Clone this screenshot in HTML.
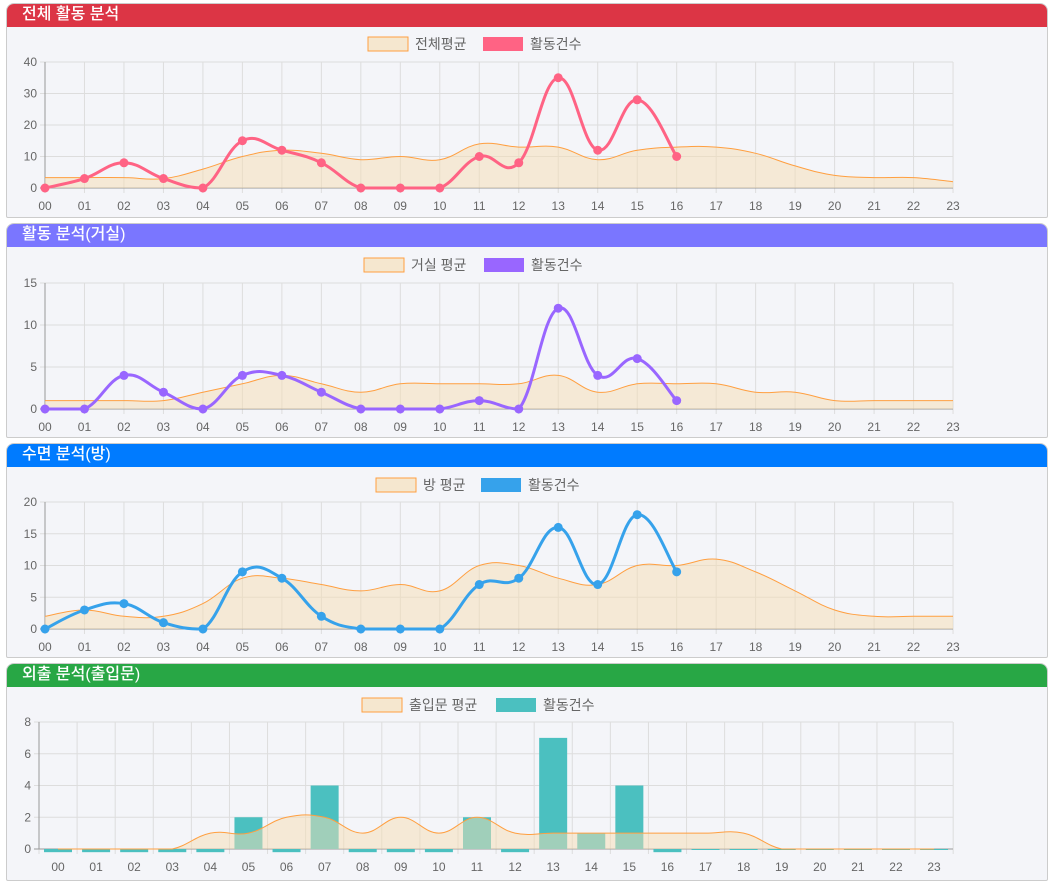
<!DOCTYPE html><html><head><meta charset="utf-8"><style>
body{margin:0;background:#fff;font-family:"Liberation Sans","Noto Sans CJK KR",sans-serif;width:1056px;height:884px;overflow:hidden;position:relative}
.p{position:absolute;left:6px;width:1040px;border:1px solid #ccc;border-radius:8px 8px 2px 2px;background:#f4f5f9;overflow:hidden}
.h{height:23px;color:#fff;font-size:16px;font-weight:500;line-height:22px;padding-left:15px}
svg{position:absolute;left:-6px;top:0}
</style></head><body>
<div class="p" style="top:3px;height:213px"><div class="h" style="background:#dc3545">전체 활동 분석</div></div>
<div class="p" style="top:223px;height:213px"><div class="h" style="background:#7a76ff">활동 분석(거실)</div></div>
<div class="p" style="top:443px;height:213px"><div class="h" style="background:#007bff">수면 분석(방)</div></div>
<div class="p" style="top:663px;height:216px"><div class="h" style="background:#28a745">외출 분석(출입문)</div></div>
<svg id="s" width="1056" height="884" style="top:0;left:0"></svg>
<script>
var S='',F='font-family="Liberation Sans,Noto Sans CJK KR,sans-serif"';
function path(pts,lo){function c(y){return Math.min(y,lo);}var d='M'+pts[0][0]+','+pts[0][1];for(var i=0;i<pts.length-1;i++){var p0=pts[i-1]||pts[i],p1=pts[i],p2=pts[i+1],p3=pts[i+2]||p2,t=0.2;var c1x=p1[0]+(p2[0]-p0[0])*t,c1y=c(p1[1]+(p2[1]-p0[1])*t),c2x=p2[0]-(p3[0]-p1[0])*t,c2y=c(p2[1]-(p3[1]-p1[1])*t);d+=' C'+c1x.toFixed(1)+','+c1y.toFixed(1)+' '+c2x.toFixed(1)+','+c2y.toFixed(1)+' '+p2[0].toFixed(1)+','+p2[1].toFixed(1);}return d;}
function chart(o){var y0=o.y0,y1=o.y1,max=o.max,xs=[];
for(var i=0;i<24;i++)xs.push(o.bar?58+i*38.09:45+i*39.48);
function Y(v){return y0-(v/max)*(y0-y1);}
var gx=o.bar?[]:xs;if(o.bar)for(var i=0;i<=24;i++)gx.push(39+i*38.09);
gx.forEach(function(x,i){S+='<line x1="'+x+'" y1="'+y1+'" x2="'+x+'" y2="'+(y0+5)+'" stroke="#ddd"/>';});
var xl=o.bar?39:45,xr=953;
for(var k=0;k<=o.steps;k++){var v=max*k/o.steps,y=Y(v);S+='<line x1="'+(xl-5)+'" y1="'+y+'" x2="'+xr+'" y2="'+y+'" stroke="'+(k==0?'#999':'#ddd')+'"/><text x="'+(xl-8)+'" y="'+(y+4)+'" font-size="12" fill="#666" text-anchor="end" '+F+'>'+v+'</text>';}
S+='<line x1="'+xl+'" y1="'+y1+'" x2="'+xl+'" y2="'+y0+'" stroke="#999"/>';
xs.forEach(function(x,i){S+='<text x="'+x+'" y="'+(y0+22)+'" font-size="12" fill="#666" text-anchor="middle" '+F+'>'+(i<10?'0':'')+i+'</text>';});
if(o.bar){o.data.forEach(function(v,i){var y=Y(v),h=Math.abs(Y(0)-y);S+='<rect x="'+(xs[i]-14)+'" y="'+Math.min(y,Y(0))+'" width="28" height="'+Math.max(h,1)+'" fill="#4bc0c0"/>';});}
var ap=o.avg.map(function(v,i){return[xs[i],Y(v)]});var d=path(ap,y0);
S+='<path d="'+d+' L'+xs[23]+','+y0+' L'+xs[0]+','+y0+'Z" fill="rgba(245,222,179,0.5)"/><path d="'+d+'" fill="none" stroke="#ff9f40" stroke-width="1"/>';
if(!o.bar){var lp=o.data.map(function(v,i){return[xs[i],Y(v)]});S+='<path d="'+path(lp,y0)+'" fill="none" stroke="'+o.c+'" stroke-width="3"/>';lp.forEach(function(p){S+='<circle cx="'+p[0]+'" cy="'+p[1]+'" r="4.5" fill="'+o.c+'"/>';});}
var lx=o.lx,ly=o.ly;S+='<rect x="'+lx+'" y="'+(ly-7)+'" width="40" height="14" fill="rgba(245,222,179,0.6)" stroke="#ff9f40"/><text x="'+(lx+47)+'" y="'+(ly+5)+'" font-size="14" fill="#666" '+F+'>'+o.l1+'</text>';
S+='<rect x="'+o.lx2+'" y="'+(ly-7)+'" width="40" height="14" fill="'+o.c+'"/><text x="'+(o.lx2+47)+'" y="'+(ly+5)+'" font-size="14" fill="#666" '+F+'>활동건수</text>';}
chart({y0:188,y1:62,max:40,steps:4,c:'#ff6384',lx:368,lx2:483,ly:44,l1:'전체평균',
data:[0,3,8,3,0,15,12,8,0,0,0,10,8,35,12,28,10],
avg:[3.3,3.3,3.3,3,6,10,12,11,9,10,9,14,13,13,9,12,13,13,11,7,4,3.3,3.3,2]});
chart({y0:409,y1:283,max:15,steps:3,c:'#9966ff',lx:364,lx2:484,ly:265,l1:'거실 평균',
data:[0,0,4,2,0,4,4,2,0,0,0,1,0,12,4,6,1],
avg:[1,1,1,1,2,3,4,3,2,3,3,3,3,4,2,3,3,3,2,2,1,1,1,1]});
chart({y0:629,y1:502,max:20,steps:4,c:'#36a2eb',lx:376,lx2:481,ly:485,l1:'방 평균',
data:[0,3,4,1,0,9,8,2,0,0,0,7,8,16,7,18,9],
avg:[2,3,2,2,4,8,8,7,6,7,6,10,10,8,7,10,10,11,9,6,3,2,2,2]});
chart({bar:1,y0:849,y1:722,max:8,steps:4,c:'#4bc0c0',lx:362,lx2:496,ly:705,l1:'출입문 평균',
data:[-0.2,-0.2,-0.2,-0.2,-0.2,2,-0.2,4,-0.2,-0.2,-0.2,2,-0.2,7,1,4,-0.2,0,0,0,0,0,0,0],
avg:[0,0,0,0,1,1,2,2,1,2,1,2,1,1,1,1,1,1,1,0,0,0,0,0]});
document.getElementById('s').innerHTML=S;
</script></body></html>
